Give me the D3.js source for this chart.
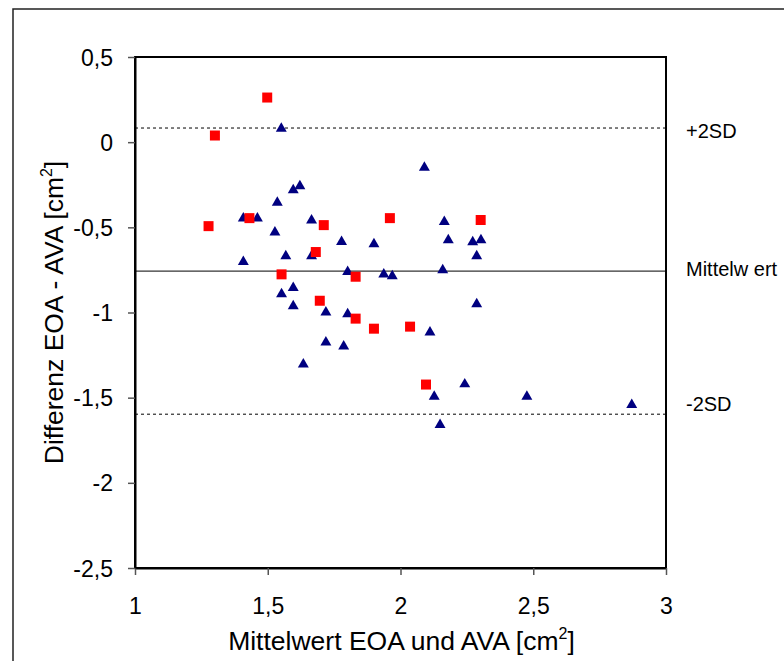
<!DOCTYPE html>
<html><head><meta charset="utf-8">
<script src="https://cdn.jsdelivr.net/npm/d3@7"></script>
<style>body{margin:0;background:#fff;} svg{display:block;font-family:"Liberation Sans",Arial,sans-serif;}</style>
</head><body>
<script>
const triX = [1.551,1.408,1.461,1.536,1.596,1.621,1.665,1.527,1.408,1.778,1.900,1.568,1.665,1.801,1.937,1.969,1.596,1.552,1.596,1.719,1.801,1.719,1.786,1.634,2.090,2.165,2.180,2.272,2.303,2.287,2.159,2.287,2.111,2.242,2.127,2.476,2.871,2.149];
const triY = [0.080,-0.447,-0.447,-0.354,-0.282,-0.258,-0.459,-0.530,-0.702,-0.585,-0.598,-0.669,-0.669,-0.761,-0.776,-0.786,-0.855,-0.892,-0.962,-0.999,-1.009,-1.175,-1.198,-1.304,-0.149,-0.467,-0.575,-0.586,-0.575,-0.669,-0.751,-0.950,-1.116,-1.421,-1.494,-1.494,-1.542,-1.660];
const sqX = [1.498,1.301,1.277,1.431,1.711,1.960,1.681,1.552,1.831,1.696,1.831,1.900,2.036,2.302,2.096];
const sqY = [0.262,0.039,-0.493,-0.446,-0.487,-0.446,-0.645,-0.776,-0.790,-0.931,-1.036,-1.095,-1.083,-0.457,-1.423];
const refValues = [0.083,-0.757,-1.597];
const refLabels = ["+2SD","Mittelw ert","-2SD"];
const refDash = [true,false,true];
const xTicks = [1,1.5,2,2.5,3];
const yTicks = [0.5,0,-0.5,-1,-1.5,-2,-2.5];

const W=784,H=661;
const svg=d3.select("body").append("svg").attr("width",W).attr("height",H);
svg.append("rect").attr("x",13).attr("y",9).attr("width",800).attr("height",700)
  .attr("fill","none").attr("stroke","#222").attr("stroke-width",1.5);

const x=d3.scaleLinear().domain([1,3]).range([135,666]);
const y=d3.scaleLinear().domain([-2.5,0.5]).range([568,57]);
const fmt=v=>String(v).replace(".",",");

svg.append("rect").attr("x",x(1)).attr("y",y(0.5)).attr("width",x(3)-x(1)).attr("height",y(-2.5)-y(0.5))
  .attr("fill","none").attr("stroke","#000").attr("stroke-width",2);

const xa=svg.append("g").attr("transform",`translate(0,${y(-2.5)})`)
  .call(d3.axisBottom(x).tickValues(xTicks).tickFormat(fmt).tickSize(7).tickSizeOuter(0));
const ya=svg.append("g").attr("transform",`translate(${x(1)},0)`)
  .call(d3.axisLeft(y).tickValues(yTicks).tickFormat(fmt).tickSize(7).tickSizeOuter(0));
[xa,ya].forEach(a=>{a.select(".domain").attr("stroke","#000").attr("stroke-width",2);
  a.selectAll(".tick line").attr("stroke","#555").attr("stroke-width",1.5);
  a.selectAll("text").attr("font-size",23).attr("fill","#000").attr("font-family","Liberation Sans, Arial, sans-serif");});
xa.selectAll("text").attr("y",38).attr("dy","0.35em");
ya.selectAll("text").attr("x",-22).attr("dy","0.35em");

const refOffset=[3,-2,-10];
refValues.forEach((v,i)=>{
  svg.append("line").attr("x1",x(1)).attr("x2",x(3)).attr("y1",y(v)).attr("y2",y(v))
    .attr("stroke","#000").attr("stroke-width",1).attr("stroke-dasharray",refDash[i]?"3,3":null);
  svg.append("text").attr("x",686).attr("y",y(v)+refOffset[i]).attr("dy","0.35em").attr("font-size",20)
    .attr("fill","#000").text(refLabels[i]);
});

svg.append("g").selectAll("path").data(triX.map((d,i)=>[d,triY[i]])).join("path")
  .attr("d",d3.symbol(d3.symbolTriangle,52)).attr("fill","#000080")
  .attr("transform",d=>`translate(${x(d[0])},${y(d[1])})`);
svg.append("g").selectAll("path").data(sqX.map((d,i)=>[d,sqY[i]])).join("path")
  .attr("d",d3.symbol(d3.symbolSquare,100)).attr("fill","#ff0000")
  .attr("transform",d=>`translate(${x(d[0])},${y(d[1])})`);

const xt=svg.append("text").attr("x",(x(1)+x(3))/2+1).attr("y",650).attr("text-anchor","middle")
  .attr("font-size",26.5).attr("fill","#000");
xt.append("tspan").text("Mittelwert EOA und AVA [cm");
xt.append("tspan").attr("font-size",16).attr("dy",-11).text("2");
xt.append("tspan").attr("dy",11).text("]");

const yt=svg.append("text").attr("transform",`translate(63,${(y(0.5)+y(-2.5))/2}) rotate(-90)`)
  .attr("text-anchor","middle").attr("font-size",26.5).attr("fill","#000");
yt.append("tspan").text("Differenz EOA - AVA [cm");
yt.append("tspan").attr("font-size",16).attr("dy",-11).text("2");
yt.append("tspan").attr("dy",11).text("]");
</script>
</body></html>
